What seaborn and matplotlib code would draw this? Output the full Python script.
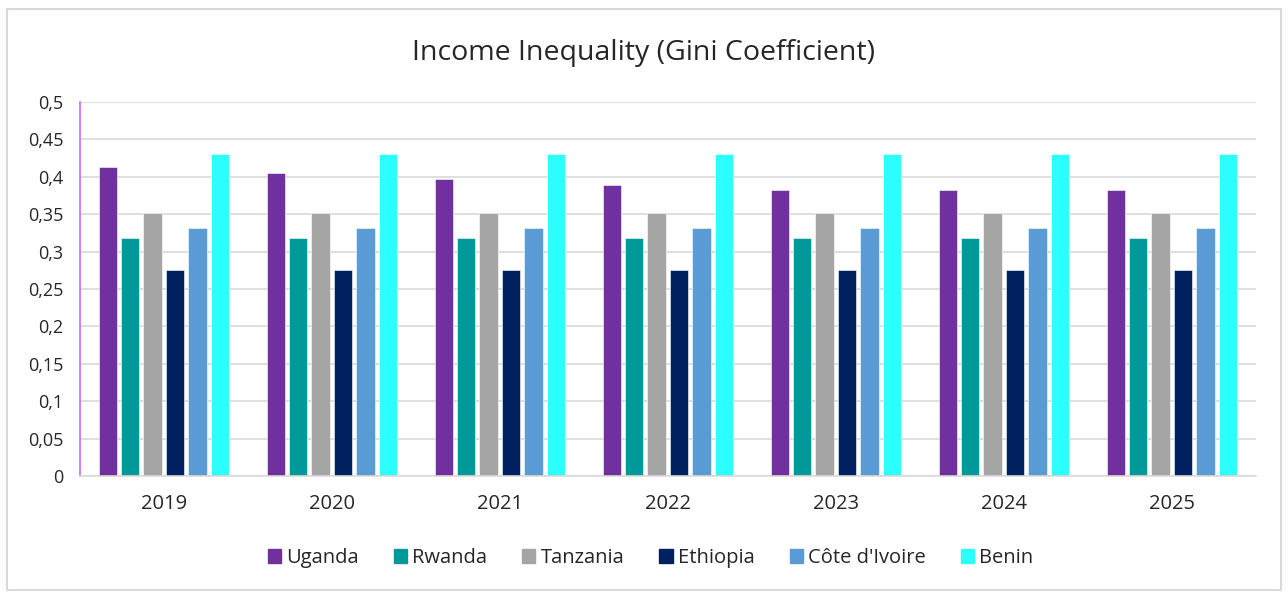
import seaborn as sns
import matplotlib.pyplot as plt
import matplotlib.patches as mpatches
import pandas as pd

years = ['2019', '2020', '2021', '2022', '2023', '2024', '2025']
countries = ['Uganda', 'Rwanda', 'Tanzania', 'Ethiopia', "Côte d'Ivoire", 'Benin']
uganda = [0.413, 0.405, 0.397, 0.389, 0.382, 0.382, 0.382]
rwanda = [0.318] * 7
tanzania = [0.351] * 7
ethiopia = [0.276] * 7
cote = [0.332] * 7
benin = [0.430] * 7
colors = ['#7030A0', '#009999', '#A5A5A5', '#002060', '#5B9BD5', '#2BFFFF']

series = [uganda, rwanda, tanzania, ethiopia, cote, benin]
rows = []
for c, vals in zip(countries, series):
    for y, v in zip(years, vals):
        rows.append({'Year': y, 'Country': c, 'Gini': v})
df = pd.DataFrame(rows)

sns.set_style('white')
plt.rcParams['font.family'] = ['Open Sans', 'DejaVu Sans']

fig = plt.figure(figsize=(12.88, 5.97), dpi=100)
ax = fig.add_axes([0.062, 0.2027, 0.913, 0.6265])

sns.barplot(data=df, x='Year', y='Gini', hue='Country', hue_order=countries,
            palette=colors, saturation=1, width=0.8, gap=0.18, ax=ax, legend=False,
            edgecolor='white', linewidth=0.4)

ax.set_ylim(0, 0.5)
ax.set_yticks([i * 0.05 for i in range(11)])
ax.set_yticklabels(['0', '0,05', '0,1', '0,15', '0,2', '0,25', '0,3', '0,35',
                    '0,4', '0,45', '0,5'], fontsize=13, color='#262626')
ax.tick_params(axis='x', labelsize=14.5, colors='#262626', length=0, pad=13)
ax.tick_params(axis='y', length=0, pad=12)
ax.set_xlabel('')
ax.set_ylabel('')
ax.grid(axis='y', color='#D9D9D9', linewidth=1.2)
ax.set_axisbelow(True)
for s in ['top', 'right']:
    ax.spines[s].set_visible(False)
ax.spines['left'].set_color('#CC66FF')
ax.spines['left'].set_linewidth(1.2)
ax.spines['bottom'].set_color('#D9D9D9')
ax.spines['bottom'].set_linewidth(1.2)

fig.text(0.5, 0.912, 'Income Inequality (Gini Coefficient)', ha='center', va='center',
         fontsize=20.5, color='#262626')

handles = [mpatches.Patch(color=c, label=n) for c, n in zip(colors, countries)]
fig.legend(handles=handles, loc='center', bbox_to_anchor=(0.505, 0.065), ncol=6,
           frameon=False, fontsize=14.5, handlelength=0.65, handleheight=0.65,
           handletextpad=0.25, columnspacing=1.75, labelcolor='#262626')

fig.patches.append(mpatches.Rectangle((7 / 1288, 7 / 597), 1274 / 1288, 581 / 597,
                                      transform=fig.transFigure, fill=False,
                                      edgecolor='#D9D9D9', linewidth=1.5))

fig.savefig('out.png', dpi=100)
